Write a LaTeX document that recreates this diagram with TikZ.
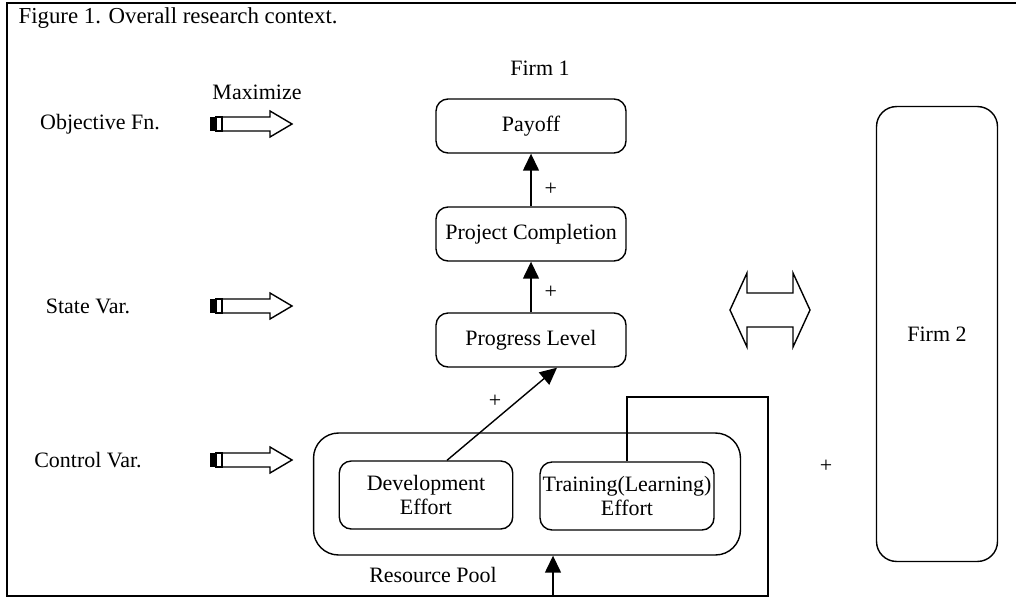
\documentclass[tikz,border=0pt]{standalone}
\usepackage{fontspec}
\setmainfont{Liberation Serif}
\usetikzlibrary{arrows.meta,calc}

\begin{document}
\begin{tikzpicture}[x=0.02cm,y=-0.02cm,line width=0.8pt,
        every node/.style={font=\fontsize{12.5}{14}\selectfont},
        box/.style={draw,rounded corners=0.24cm,minimum width=3.8cm,minimum height=1.08cm,inner sep=0pt},
        effortbox/.style={draw,rounded corners=0.24cm,minimum width=3.47cm,minimum height=1.36cm,inner sep=0pt,align=center},
        tip/.style={-{Triangle[length=0.34cm,width=0.32cm]}}]
        \useasboundingbox (0,0) rectangle (1016,601);
        \draw (12,18) node[anchor=west,font=\fontsize{13}{15}\selectfont] (title) {Figure 1. Overall research context.};
        \draw (540,68) node[] (firmA) {Firm 1};
        \draw (257,92) node[] (maxi) {Maximize};
        % left column
        \foreach \y/\lbl/\x in {124/Objective Fn./100, 306/State Var./88, 460/Control Var./88}{
          \draw (\x,\y) node[] (side\y) {\lbl};
          \fill (210,\y-7) rectangle (216,\y+7);
          \draw (216,\y-7) rectangle (222,\y+7);
          \draw (222,\y-7) -- (270,\y-7) -- (270,\y-13) -- (292,\y) -- (270,\y+13) -- (270,\y+7) -- (222,\y+7) -- cycle;
        }
        % firm 1
        \draw (531,126) node[box] (pay) {Payoff};
        \draw (531,234) node[box] (proj) {Project Completion};
        \draw (531,340) node[box] (prog) {Progress Level};
        \draw (527,494) node[draw,rounded corners=0.5cm,minimum width=8.54cm,minimum height=2.44cm] (pool) {};
        \draw (426,495) node[effortbox] (dev) {Development\\Effort};
        \draw (627,496) node[effortbox,minimum width=3.48cm] (train) {Training(Learning)\\Effort};
        \draw (433,575) node[] (poolname) {Resource Pool};
        \draw[tip] (proj)--(pay) node[right,pos=.33,xshift=4pt] (plusA) {+};
        \draw[tip] (prog)--(proj) node[right,pos=.39,xshift=4pt] (plusB) {+};
        \draw[tip] ($(dev.north)+(21,0)$)--($(prog.south)+(26,0)$) node[above,pos=.5,xshift=-4pt] (plusC) {+};
        \coordinate (loopNE) at (768,397);
        \coordinate (loopSE) at (768,596);
        \draw[tip] (train.north) |- (loopNE) -- (loopSE) -| ($(pool.south)+(26,0)$);
        % frame
        \draw (1016,3) -- (7,3) -- (7,596) -- (loopSE);
        % firm 2
        \draw (937,334) node[draw,rounded corners=0.4cm,minimum width=2.42cm,minimum height=9.1cm] (firmB) {Firm 2};
        \draw (730,310) -- (747,273) -- (747,293) -- (793,293) -- (793,273) -- (810,310)
              -- (793,347) -- (793,327) -- (747,327) -- (747,347) -- cycle;
        \draw (826,466) node[] (plusD) {+};
\end{tikzpicture}
\end{document}
